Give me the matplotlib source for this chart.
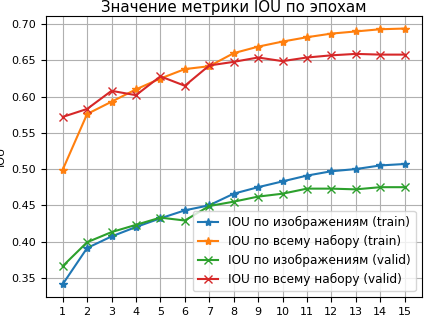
import matplotlib
matplotlib.use("Agg")
import matplotlib.pyplot as plt

epochs = list(range(1, 16))
iou_img_train = [0.341, 0.391, 0.407, 0.420, 0.432, 0.443, 0.450, 0.466, 0.475,
                 0.483, 0.491, 0.497, 0.500, 0.505, 0.507]
iou_all_train = [0.499, 0.576, 0.593, 0.610, 0.625, 0.638, 0.642, 0.660, 0.669,
                 0.676, 0.682, 0.687, 0.690, 0.693, 0.694]
iou_img_valid = [0.366, 0.399, 0.413, 0.423, 0.433, 0.429, 0.449, 0.455, 0.462,
                 0.466, 0.473, 0.473, 0.472, 0.475, 0.475]
iou_all_valid = [0.572, 0.583, 0.608, 0.602, 0.628, 0.615, 0.643, 0.648, 0.654,
                 0.649, 0.654, 0.657, 0.659, 0.658, 0.658]

plt.rcParams["font.size"] = 8

fig, ax = plt.subplots(figsize=(4.26, 3.15), dpi=100)
ax.plot(epochs, iou_img_train, marker="*", color="C0", label="IOU по изображениям (train)")
ax.plot(epochs, iou_all_train, marker="*", color="C1", label="IOU по всему набору (train)")
ax.plot(epochs, iou_img_valid, marker="x", color="C2", label="IOU по изображениям (valid)")
ax.plot(epochs, iou_all_valid, marker="x", color="C3", label="IOU по всему набору (valid)")

ax.set_title("Значение метрики IOU по эпохам", fontsize=10.8, pad=3)
ax.set_ylabel("IOU")
ax.set_xticks(epochs)
ax.grid(True)
ax.legend(loc="lower right", fontsize=8.7, handlelength=1.7)

fig.subplots_adjust(left=0.107, right=0.99, top=0.95, bottom=0.057)
fig.savefig("out.png", dpi=100)
